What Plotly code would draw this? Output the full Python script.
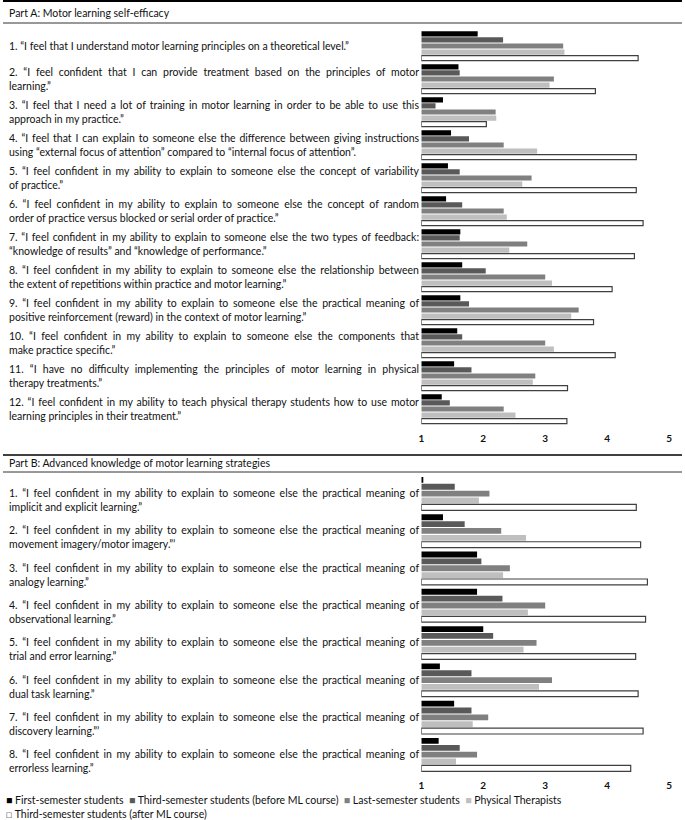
import plotly.graph_objects as go

# ---------------- data ----------------
series_names = [
    "First-semester students",
    "Third-semester students (before ML course)",
    "Last-semester students",
    "Physical Therapists",
    "Third-semester students (after ML course)",
]

part_a_title = "Part A: Motor learning self-efficacy"
part_b_title = "Part B: Advanced knowledge of motor learning strategies"

part_a_items = [
    "1. “I feel that I understand motor learning principles on a theoretical level.”",
    "2. “I feel confident that I can provide treatment based on the principles of motor<br>learning.”",
    "3. “I feel that I need a lot of training in motor learning in order to be able to use this<br>approach in my practice.”",
    "4. “I feel that I can explain to someone else the difference between giving instructions<br>using “external focus of attention” compared to “internal focus of attention”.",
    "5. “I feel confident in my ability to explain to someone else the concept of variability<br>of practice.”",
    "6. “I feel confident in my ability to explain to someone else the concept of random<br>order of practice versus blocked or serial order of practice.”",
    "7. “I feel confident in my ability to explain to someone else the two types of feedback:<br>“knowledge of results” and “knowledge of performance.”",
    "8. “I feel confident in my ability to explain to someone else the relationship between<br>the extent of repetitions within practice and motor learning.”",
    "9. “I feel confident in my ability to explain to someone else the practical meaning of<br>positive reinforcement (reward) in the context of motor learning.”",
    "10. “I feel confident in my ability to explain to someone else the components that<br>make practice specific.”",
    "11. “I have no difficulty implementing the principles of motor learning in physical<br>therapy treatments.”",
    "12. “I feel confident in my ability to teach physical therapy students how to use motor<br>learning principles in their treatment.”",
]

part_b_items = [
    "1. “I feel confident in my ability to explain to someone else the practical meaning of<br>implicit and explicit learning.”",
    "2. “I feel confident in my ability to explain to someone else the practical meaning of<br>movement imagery/motor imagery.”’",
    "3. “I feel confident in my ability to explain to someone else the practical meaning of<br>analogy learning.”",
    "4. “I feel confident in my ability to explain to someone else the practical meaning of<br>observational learning.”",
    "5. “I feel confident in my ability to explain to someone else the practical meaning of<br>trial and error learning.”",
    "6. “I feel confident in my ability to explain to someone else the practical meaning of<br>dual task learning.”",
    "7. “I feel confident in my ability to explain to someone else the practical meaning of<br>discovery learning.”’",
    "8. “I feel confident in my ability to explain to someone else the practical meaning of<br>errorless learning.”",
]

# Part A mean scores (1-5)
first_a = [1.91, 1.60, 1.35, 1.48, 1.43, 1.40, 1.63, 1.66, 1.63, 1.58, 1.53, 1.33]
third_before_a = [2.32, 1.62, 1.23, 1.77, 1.62, 1.66, 1.62, 2.04, 1.77, 1.66, 1.81, 1.46]
last_a = [3.29, 3.14, 2.20, 2.33, 2.78, 2.33, 2.71, 3.00, 3.54, 3.00, 2.84, 2.33]
pt_a = [3.31, 3.07, 2.21, 2.87, 2.63, 2.38, 2.42, 3.11, 3.42, 3.14, 2.80, 2.52]
third_after_a = [4.50, 3.81, 2.05, 4.47, 4.47, 4.58, 4.44, 4.08, 3.78, 4.13, 3.36, 3.35]

# Part B mean scores (1-5)
first_b = [1.02, 1.35, 1.90, 1.90, 2.00, 1.30, 1.53, 1.28]
third_before_b = [1.54, 1.70, 1.97, 2.31, 2.16, 1.81, 1.81, 1.62]
last_b = [2.10, 2.29, 2.43, 3.00, 2.86, 3.11, 2.08, 1.90]
pt_b = [1.93, 2.69, 2.32, 2.72, 2.65, 2.90, 1.83, 1.56]
third_after_b = [4.47, 4.54, 4.65, 4.62, 4.46, 4.50, 4.58, 4.38]

tick_vals = [1, 2, 3, 4, 5]
scale_min = 1

# ---------------- styles / layout ----------------
W, H = 685, 820
FONT = "Lato, 'Noto Sans', sans-serif"
TXT = "#111111"
fill_colors = ["#000000", "#595959", "#808080", "#bfbfbf", "#ffffff"]
edge_colors = ["#000000", "#595959", "#808080", "#bfbfbf", "#404040"]
edge_widths = [0, 0, 0, 0, 1.2]
legend_glyphs = ["■", "■", "■", "■", "□"]
legend_glyph_colors = ["#000000", "#595959", "#808080", "#bfbfbf", "#808080"]


def px(x):
    return x / W


def py(y):
    return 1 - y / H


X_L, X_R = 422, 672
A_TOP, A_BOT = 29.5, 425.5
B_TOP, B_BOT = 475.0, 773.3
TEXT_X = 4          # annotation anchor (text itself starts ~3px to the right)
JUSTIFY_W = 410     # width of a full (justified) text line in px

cats_a = [f"A{i+1}" for i in range(len(part_a_items))]
cats_b = [f"B{i+1}" for i in range(len(part_b_items))]

series_a = [first_a, third_before_a, last_a, pt_a, third_after_a]
series_b = [first_b, third_before_b, last_b, pt_b, third_after_b]

fig = go.Figure()
for k, name in enumerate(series_names):
    for vals, cats, xa, ya in ((series_a[k], cats_a, "x", "y"), (series_b[k], cats_b, "x2", "y2")):
        fig.add_trace(go.Bar(
            y=cats,
            x=[v - scale_min for v in vals],
            base=scale_min,
            customdata=vals,
            orientation="h",
            name=name,
            legendgroup=name,
            showlegend=False,
            marker=dict(color=fill_colors[k],
                        line=dict(color=edge_colors[k], width=edge_widths[k])),
            hovertemplate="%{customdata:.2f}<extra>" + name + "</extra>",
            xaxis=xa, yaxis=ya,
        ))

axis_x = dict(range=[1, 5], tickvals=tick_vals, ticktext=[str(t) for t in tick_vals],
              showgrid=False, zeroline=False, showline=False, ticks="",
              ticklabelstandoff=5,
              tickfont=dict(family=FONT, size=10, color=TXT, weight="bold"),
              fixedrange=True)

fig.update_layout(
    width=W, height=H,
    margin=dict(l=0, r=0, t=0, b=0),
    paper_bgcolor="white", plot_bgcolor="white",
    barmode="group", bargap=0.08, bargroupgap=0.15,
    showlegend=False,
    font=dict(family=FONT, size=10.5, color=TXT),
    xaxis=dict(domain=[px(X_L), px(X_R)], anchor="y", **axis_x),
    yaxis=dict(domain=[py(A_BOT), py(A_TOP)], anchor="x", type="category",
               categoryorder="array", categoryarray=cats_a,
               range=[len(cats_a) - 0.5, -0.5], showticklabels=False,
               showgrid=False, zeroline=False, showline=False, ticks="", fixedrange=True),
    xaxis2=dict(domain=[px(X_L), px(X_R)], anchor="y2", **axis_x),
    yaxis2=dict(domain=[py(B_BOT), py(B_TOP)], anchor="x2", type="category",
                categoryorder="array", categoryarray=cats_b,
                range=[len(cats_b) - 0.5, -0.5], showticklabels=False,
                showgrid=False, zeroline=False, showline=False, ticks="", fixedrange=True),
)

annotations = []
# headers
for title, y in ((part_a_title, 12.5), (part_b_title, 463.5)):
    annotations.append(dict(text=title, x=px(TEXT_X), y=py(y), xref="paper", yref="paper",
                            xanchor="left", yanchor="middle", showarrow=False,
                            font=dict(family=FONT, size=10.5, color=TXT)))
# item texts
for txt, cat in zip(part_a_items, cats_a):
    annotations.append(dict(text=txt, x=px(TEXT_X), y=cat, xref="paper", yref="y",
                            xanchor="left", yanchor="middle", align="left",
                            showarrow=False, font=dict(family=FONT, size=10.5, color=TXT)))
for txt, cat in zip(part_b_items, cats_b):
    annotations.append(dict(text=txt, x=px(TEXT_X), y=cat, xref="paper", yref="y2",
                            xanchor="left", yanchor="middle", align="left", yshift=-6.5,
                            showarrow=False, font=dict(family=FONT, size=10.5, color=TXT)))
# legend (drawn as text rows)
legend_parts = [f"<span style='color:{legend_glyph_colors[k]}'>{legend_glyphs[k]}</span> {name}"
                for k, name in enumerate(series_names)]
legend_rows = [("\u00a0 ".join(legend_parts[:4]), 800), (legend_parts[4], 814)]
for text, y0 in legend_rows:
    annotations.append(dict(
        text=text, x=px(1), y=py(y0), xref="paper", yref="paper", xanchor="left",
        yanchor="middle", showarrow=False, font=dict(family=FONT, size=10.5, color=TXT)))
fig.update_layout(annotations=annotations)

# horizontal rules of the table
shapes = []
for y, w, c in ((1, 2, "#000000"), (23, 1, "#333333"), (455, 1.6, "#000000"), (472, 1, "#333333")):
    shapes.append(dict(type="line", xref="paper", yref="paper", x0=0, x1=1, y0=py(y), y1=py(y),
                       line=dict(color=c, width=w)))
fig.update_layout(shapes=shapes)

# page margin off + justify the non-final lines of the item texts (as in the source table)
post_js = """
document.body.style.margin = '0';
var target = %d;
document.querySelectorAll('.annotation-text').forEach(function (t) {
  var lines = t.querySelectorAll('tspan.line');
  if (lines.length < 2) return;
  for (var i = 0; i < lines.length - 1; i++) {
    var ln = lines[i];
    var w = ln.getComputedTextLength();
    var n = (ln.textContent.match(/ /g) || []).length;
    if (n > 0 && w < target) {
      ln.setAttribute('word-spacing', ((target - w) / n).toFixed(2) + 'px');
    }
  }
});
""" % JUSTIFY_W

fig.write_html("out.html", post_script=post_js, config={"displayModeBar": False})
